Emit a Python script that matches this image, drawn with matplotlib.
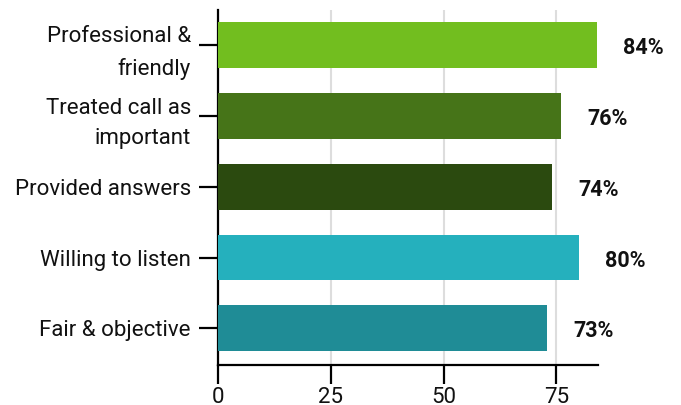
import matplotlib
matplotlib.use("Agg")
import matplotlib.pyplot as plt

categories = ["Professional &\nfriendly", "Treated call as\nimportant", "Provided answers",
              "Willing to listen", "Fair & objective"]
values = [84, 76, 74, 80, 73]
colors = ["#72BE1F", "#467418", "#2B4A0F", "#25B0BD", "#1F8C96"]
xticks = [0, 25, 50, 75]

plt.rcParams['font.family'] = ['Roboto', 'DejaVu Sans']

fig = plt.figure(figsize=(6.81, 4.05), dpi=100)
ax = fig.add_axes([218/681, 1-365/405, (598-218)/681, (365-10)/405])

ypos = list(range(len(categories)))
ax.barh(ypos, values, height=0.65, color=colors, zorder=3)
ax.set_ylim(len(categories)-0.5+0.02, -0.5)
ax.set_xlim(0, 84.2)
ax.set_yticks(ypos)
ax.set_yticklabels(categories, fontsize=16, color="#111111", multialignment="right",
                   linespacing=1.6)
ax.set_xticks(xticks)
ax.set_xticklabels([str(t) for t in xticks], fontsize=16, color="#111111")
ax.xaxis.grid(True, color="#DDDDDD", linewidth=1.5, zorder=0)
ax.set_axisbelow(True)
for s in ["top", "right"]:
    ax.spines[s].set_visible(False)
for s in ["left", "bottom"]:
    ax.spines[s].set_linewidth(1.6)
    ax.spines[s].set_color("black")
ax.tick_params(axis="both", length=13.5, width=1.6, color="black")
ax.tick_params(axis="y", pad=6)
ax.tick_params(axis="x", pad=2)

for y, v in zip(ypos, values):
    ax.annotate(f"{v}%", xy=(v, y), xytext=(26, -3), textcoords="offset pixels",
                ha="left", va="center", fontsize=15.5, fontweight="bold", color="#111111")

fig.savefig("out.png", dpi=100)
